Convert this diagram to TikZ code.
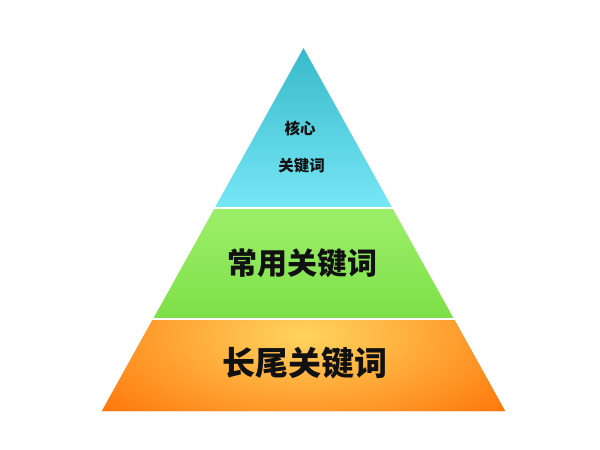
\documentclass[tikz,border=0pt]{standalone}
\usepackage{fontspec}
\newfontfamily\cjk{Noto Sans CJK SC}
\definecolor{cyantop}{HTML}{38BACB}
\definecolor{cyanbot}{HTML}{76E6F5}
\definecolor{greentop}{HTML}{9CEF69}
\definecolor{greenbot}{HTML}{7EE048}
\definecolor{orin}{HTML}{FFD45E}
\definecolor{orout}{HTML}{FF6A00}
\definecolor{txt}{HTML}{111111}
\tikzset{
  label/.style={text=txt,inner sep=0pt,font=\cjk\bfseries},
}
\begin{document}
\begin{tikzpicture}[x=1pt,y=-1pt]
\useasboundingbox (0,0) rectangle (600,450);
\fill[white] (0,0) rectangle (600,450);
\coordinate (apex) at (303.5,48);
\coordinate (bl) at (102,411);
\coordinate (br) at (505,411);
\begin{scope}
  \clip (apex) -- (bl) -- (br) -- cycle;
  \shade[top color=cyantop,bottom color=cyanbot] (95,48) rectangle (510,206);
  \shade[top color=greentop,bottom color=greenbot] (95,209) rectangle (510,317);
  \begin{scope}
    \clip (95,320) rectangle (510,412);
    \fill[orout] (95,320) rectangle (510,412);
    \shade[inner color=orin,outer color=orout] (304,335) ellipse [x radius=300, y radius=135];
  \end{scope}
\end{scope}
\node[label,font=\cjk\bfseries\fontsize{15.5}{16}\selectfont] (core1) at (300,129) {核心};
\node[label,font=\cjk\bfseries\fontsize{15.5}{16}\selectfont] (core2) at (301.5,165.5) {关键词};
\node[label,font=\cjk\bfseries\fontsize{30}{30}\selectfont] (common) at (302,263) {常用关键词};
\node[label,font=\cjk\bfseries\fontsize{33}{33}\selectfont] (longtail) at (304.5,363.5) {长尾关键词};
\end{tikzpicture}
\end{document}
